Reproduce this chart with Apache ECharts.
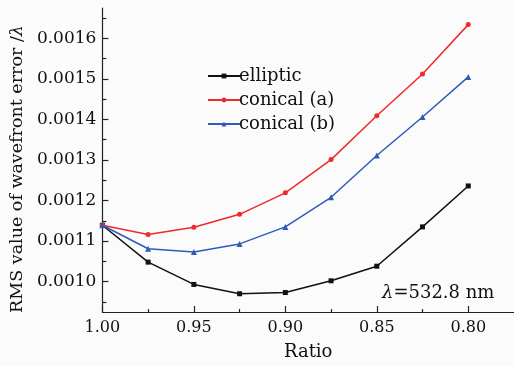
<!DOCTYPE html>
<html>
<head>
<meta charset="utf-8">
<script src="https://cdn.jsdelivr.net/npm/echarts@6/dist/echarts.min.js"></script>
<style>
  html, body { margin: 0; padding: 0; background: #fbfbfb; }
  #chart { width: 514px; height: 366px; }
</style>
</head>
<body>
<div id="chart"></div>
<script>
const ratios = [1.0, 0.975, 0.95, 0.925, 0.9, 0.875, 0.85, 0.825, 0.8];
const elliptic = [0.001139, 0.001048, 0.000993, 0.00097, 0.000973, 0.001002, 0.001038, 0.001135, 0.001236];
const conicalA = [0.001139, 0.001116, 0.001134, 0.001166, 0.001219, 0.001301, 0.001409, 0.001512, 0.001634];
const conicalB = [0.001139, 0.001081, 0.001073, 0.001093, 0.001135, 0.001208, 0.001311, 0.001406, 0.001505];

const xLabels = [1.0, 0.95, 0.9, 0.85, 0.8];
const xMinor = [0.975, 0.925, 0.875, 0.825];
const yLabels = [0.0010, 0.0011, 0.0012, 0.0013, 0.0014, 0.0015, 0.0016];
const yMinor = [0.00095, 0.00105, 0.00115, 0.00125, 0.00135, 0.00145, 0.00155, 0.00165];

const font = "DejaVu Serif";
const ink = "#111";

const chart = echarts.init(document.getElementById("chart"), null, { renderer: "canvas" });

const pair = (vals) => ratios.map((r, i) => [r, vals[i]]);

const axisX = {
  type: "value",
  min: 0.775,
  max: 1.0,
  inverse: true,
  position: "bottom",
  splitLine: { show: false },
};
const axisY = {
  type: "value",
  min: 0.000925,
  max: 0.001675,
  position: "left",
  splitLine: { show: false },
};

const option = {
  backgroundColor: "#fbfbfb",
  animation: false,
  textStyle: { fontFamily: font },
  grid: { left: 101, right: 0, top: 8, bottom: 53, containLabel: false },
  legend: {
    orient: "vertical",
    left: 202,
    top: 62,
    itemWidth: 32,
    itemHeight: 6,
    itemGap: 6,
    textStyle: { fontFamily: font, fontSize: 18, color: ink, padding: [0, 0, 0, -6] },
    data: ["elliptic", "conical (a)", "conical (b)"],
  },
  xAxis: [
    {
      ...axisX,
      name: "Ratio",
      nameLocation: "middle",
      nameGap: 31,
      nameTextStyle: { fontFamily: font, fontSize: 18, color: ink },
      axisLine: { lineStyle: { color: "#222", width: 1.2 } },
      axisTick: { inside: true, length: 6, customValues: xLabels, lineStyle: { color: "#222", width: 1.2 } },
      axisLabel: {
        customValues: xLabels,
        margin: 8,
        fontFamily: font,
        fontSize: 16,
        color: ink,
        formatter: (v) => v.toFixed(2),
      },
    },
    {
      ...axisX,
      axisLine: { show: false },
      axisTick: { inside: true, length: 3, customValues: xMinor, lineStyle: { color: "#222", width: 1.2 } },
      axisLabel: { show: false },
    },
  ],
  yAxis: [
    {
      ...axisY,
      name: "{a|RMS value of wavefront error /}{b|λ}",
      nameLocation: "middle",
      nameGap: 75,
      nameTextStyle: {
        padding: [0, 18, 0, 0],
        rich: {
          a: { fontFamily: font, fontSize: 17.5, color: ink },
          b: { fontFamily: font, fontSize: 17.5, color: ink, fontStyle: "italic" },
        },
      },
      axisLine: { lineStyle: { color: "#222", width: 1.2 } },
      axisTick: { inside: true, length: 6, customValues: yLabels, lineStyle: { color: "#222", width: 1.2 } },
      axisLabel: {
        customValues: yLabels,
        margin: 6,
        fontFamily: font,
        fontSize: 17,
        color: ink,
        formatter: (v) => v.toFixed(4),
      },
    },
    {
      ...axisY,
      axisLine: { show: false },
      axisTick: { inside: true, length: 4, customValues: yMinor, lineStyle: { color: "#222", width: 1.2 } },
      axisLabel: { show: false },
    },
  ],
  graphic: [
    {
      type: "text",
      left: 382,
      top: 284,
      style: {
        text: "{b|λ}{a|=532.8 nm}",
        rich: {
          a: { fontFamily: font, fontSize: 18, fill: ink },
          b: { fontFamily: font, fontSize: 18, fill: ink, fontStyle: "italic" },
        },
      },
    },
  ],
  series: [
    {
      name: "elliptic",
      type: "line",
      data: pair(elliptic),
      symbol: "rect",
      symbolSize: 5,
      itemStyle: { color: "#111" },
      lineStyle: { color: "#111", width: 1.5 },
    },
    {
      name: "conical (a)",
      type: "line",
      data: pair(conicalA),
      symbol: "circle",
      symbolSize: 5,
      itemStyle: { color: "#ee2a2a" },
      lineStyle: { color: "#ee2a2a", width: 1.5 },
    },
    {
      name: "conical (b)",
      type: "line",
      data: pair(conicalB),
      symbol: "triangle",
      symbolSize: 6,
      itemStyle: { color: "#2f5cb8" },
      lineStyle: { color: "#2f5cb8", width: 1.5 },
    },
  ],
};

chart.setOption(option);
</script>
</body>
</html>
